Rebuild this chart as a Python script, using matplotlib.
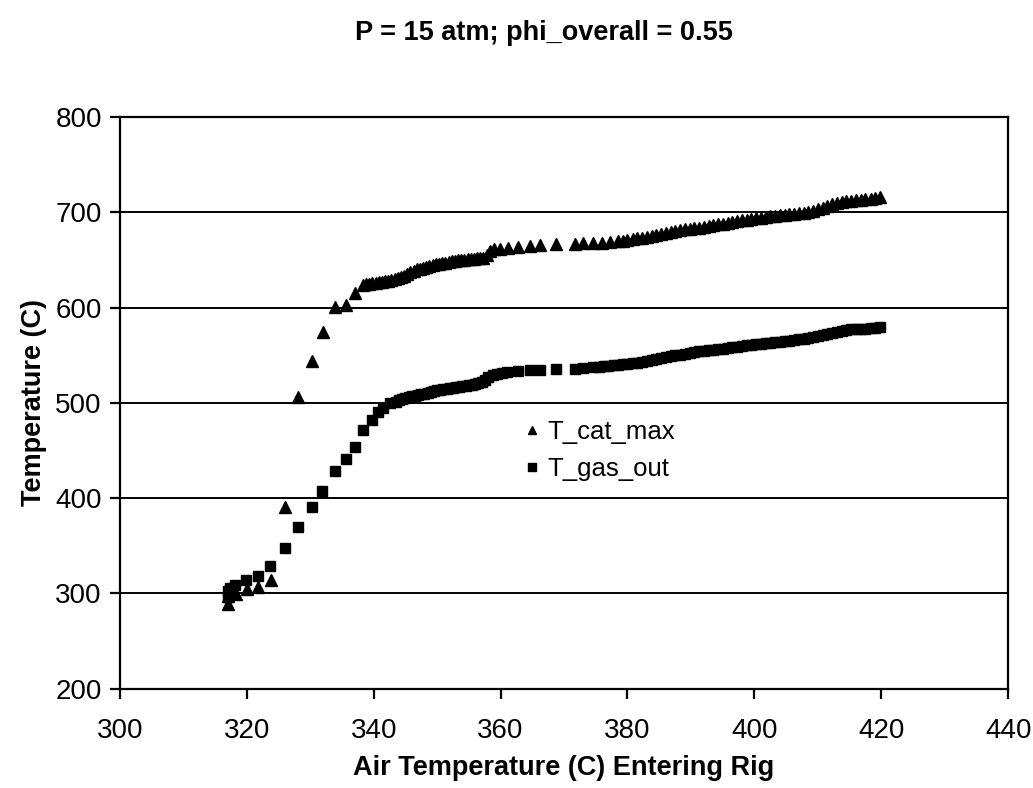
import matplotlib
matplotlib.use("Agg")
import matplotlib.pyplot as plt
from matplotlib.ticker import MultipleLocator

plt.rcParams['font.family'] = ['Liberation Sans', 'DejaVu Sans']

title = "P = 15 atm; phi_overall = 0.55"
xlabel = "Air Temperature (C) Entering Rig"
ylabel = "Temperature (C)"
series_names = ["T_cat_max", "T_gas_out"]

x_cat = [317.0, 317.0, 317.2, 318.3, 320.0, 321.8, 323.8, 326.0, 328.1, 330.3,
         332.0, 333.9, 335.6, 337.0, 338.3,
         338.8, 339.3, 339.8, 340.3, 340.8, 341.3, 341.8, 342.3, 342.8, 343.3,
         343.8, 344.3, 344.8, 345.3, 345.8, 346.3, 346.8, 347.3, 347.8, 348.3,
         348.8, 349.3, 349.8, 350.3, 350.8, 351.3, 351.8, 352.3, 352.8, 353.3,
         353.8, 354.3, 354.8, 355.3, 355.8, 356.3, 356.8, 357.3, 357.8,
         358.3, 359.0, 359.9, 361.2, 362.7, 364.6, 366.2, 368.7, 371.7, 373.0,
         374.6, 376.0, 377.2, 378.5,
         379.3, 380.0, 380.8, 381.5, 382.3, 383.0, 383.8, 384.5, 385.3, 386.0,
         386.8, 387.5, 388.3, 389.0, 389.8, 390.5, 391.3, 392.0, 392.8, 393.5,
         394.3, 395.0, 395.8, 396.5, 397.3, 398.0, 398.8, 399.5, 400.3, 401.0,
         401.8, 402.5, 403.3, 404.0, 404.8, 405.5, 406.3, 407.0, 407.8, 408.5,
         409.3, 410.0, 410.8, 411.5, 412.3, 413.0, 413.8, 414.5, 415.3, 416.0,
         416.8, 417.5, 418.3, 419.0, 419.8]
t_cat = [289, 297, 300, 299, 305, 307, 314, 391, 506, 544,
         574, 601, 603, 615, 624,
         625, 625, 626, 626, 627, 627, 628, 628, 629, 630,
         631, 632, 633, 635, 637, 638, 640, 641, 642, 643,
         644, 645, 646, 646, 647, 647, 648, 649, 649, 650,
         650, 650, 651, 651, 651, 652, 652, 652, 655,
         659, 661, 662, 663, 664, 665, 666, 667, 667, 668,
         668, 668, 669, 670,
         670, 671, 672, 673, 673, 674, 675, 676, 677, 678,
         679, 680, 681, 682, 682, 683, 684, 685, 686, 687,
         688, 688, 689, 690, 691, 692, 692, 693, 694, 694,
         695, 696, 696, 697, 697, 698, 698, 699, 699, 700,
         701, 703, 705, 707, 709, 710, 711, 712, 712, 713,
         713, 714, 714, 715, 716]

x_gas = [317.0, 317.0, 317.3, 318.1, 319.9, 321.8, 323.6, 326.0, 328.1, 330.3,
         331.8, 333.9, 335.6, 337.0, 338.3, 339.7, 340.7, 341.5, 342.6, 343.5,
         344.0, 344.5, 345.0, 345.5, 346.0, 346.5, 347.0, 347.5, 348.0, 348.5,
         349.0, 349.5, 350.0, 350.5, 351.0, 351.5, 352.0, 352.5, 353.0, 353.5,
         354.0, 354.5, 355.0, 355.5, 356.0, 356.5, 357.0, 357.5, 358.0, 358.8,
         359.5, 360.2, 361.0, 362.7, 364.6, 366.2, 368.7, 371.7, 373.0, 374.6,
         375.5,
         376.3, 377.0, 377.8, 378.5, 379.3, 380.0, 380.8, 381.5, 382.3, 383.0,
         383.8, 384.5, 385.3, 386.0, 386.8, 387.5, 388.3, 389.0, 389.8, 390.5,
         391.3, 392.0, 392.8, 393.5, 394.3, 395.0, 395.8, 396.5, 397.3, 398.0,
         398.8, 399.5, 400.3, 401.0, 401.8, 402.5, 403.3, 404.0, 404.8, 405.5,
         406.3, 407.0, 407.8, 408.5, 409.3, 410.0, 410.8, 411.5, 412.3, 413.0,
         413.8, 414.5, 415.3, 416.0, 416.8, 417.5, 418.3, 419.0, 419.8]
t_gas = [296, 303, 306, 309, 314, 318, 329, 348, 370, 391,
         408, 428, 441, 454, 471, 482, 490, 495, 500, 501,
         503, 504, 505, 506, 507, 507, 508, 509, 509, 510,
         511, 512, 513, 514, 515, 515, 516, 516, 517, 517,
         518, 518, 519, 519, 520, 521, 522, 524, 527, 529,
         530, 531, 532, 533, 534, 535, 536, 536, 537, 538,
         538,
         539, 539, 540, 540, 541, 541, 542, 542, 543, 544,
         545, 546, 547, 548, 549, 550, 550, 551, 552, 553,
         554, 554, 555, 556, 557, 557, 558, 559, 559, 560,
         561, 561, 562, 562, 563, 563, 564, 564, 565, 565,
         566, 567, 567, 568, 569, 570, 571, 572, 573, 574,
         575, 576, 577, 577, 578, 578, 579, 579, 580]

fig = plt.figure(figsize=(10.33, 7.88), dpi=100)
ax = fig.add_axes([0.116, 0.126, 0.860, 0.7255])

ax.plot(x_cat, t_cat, linestyle='none', marker='^', markersize=8,
        color='black', label=series_names[0])
ax.plot(x_gas, t_gas, linestyle='none', marker='s', markersize=6.8,
        color='black', label=series_names[1])

ax.set_xlim(300, 440)
ax.set_ylim(200, 800)
ax.xaxis.set_major_locator(MultipleLocator(20))
ax.yaxis.set_major_locator(MultipleLocator(100))
ax.yaxis.grid(True, color='black', linewidth=1.4)
ax.set_axisbelow(True)
for s in ax.spines.values():
    s.set_linewidth(1.6)
    s.set_color('black')
ax.tick_params(axis='both', direction='out', length=7, width=1.6,
               labelsize=20, colors='black')
ax.tick_params(axis='x', pad=14)
ax.tick_params(axis='y', pad=6)

ax.set_xlabel(xlabel, fontsize=19.5, fontweight='bold', labelpad=8)
ax.set_ylabel(ylabel, fontsize=19.5, fontweight='bold', labelpad=6)
fig.text(0.527, 0.958, title, ha='center', va='center', fontsize=19.5,
         fontweight='bold')

leg = ax.legend(loc='upper left', bbox_to_anchor=(0.455, 0.47), frameon=False,
                fontsize=18.5, markerscale=0.8, handlelength=0.6,
                handletextpad=0.3, labelspacing=0.5, borderaxespad=0,
                borderpad=0)

fig.savefig("out.png", dpi=100)
